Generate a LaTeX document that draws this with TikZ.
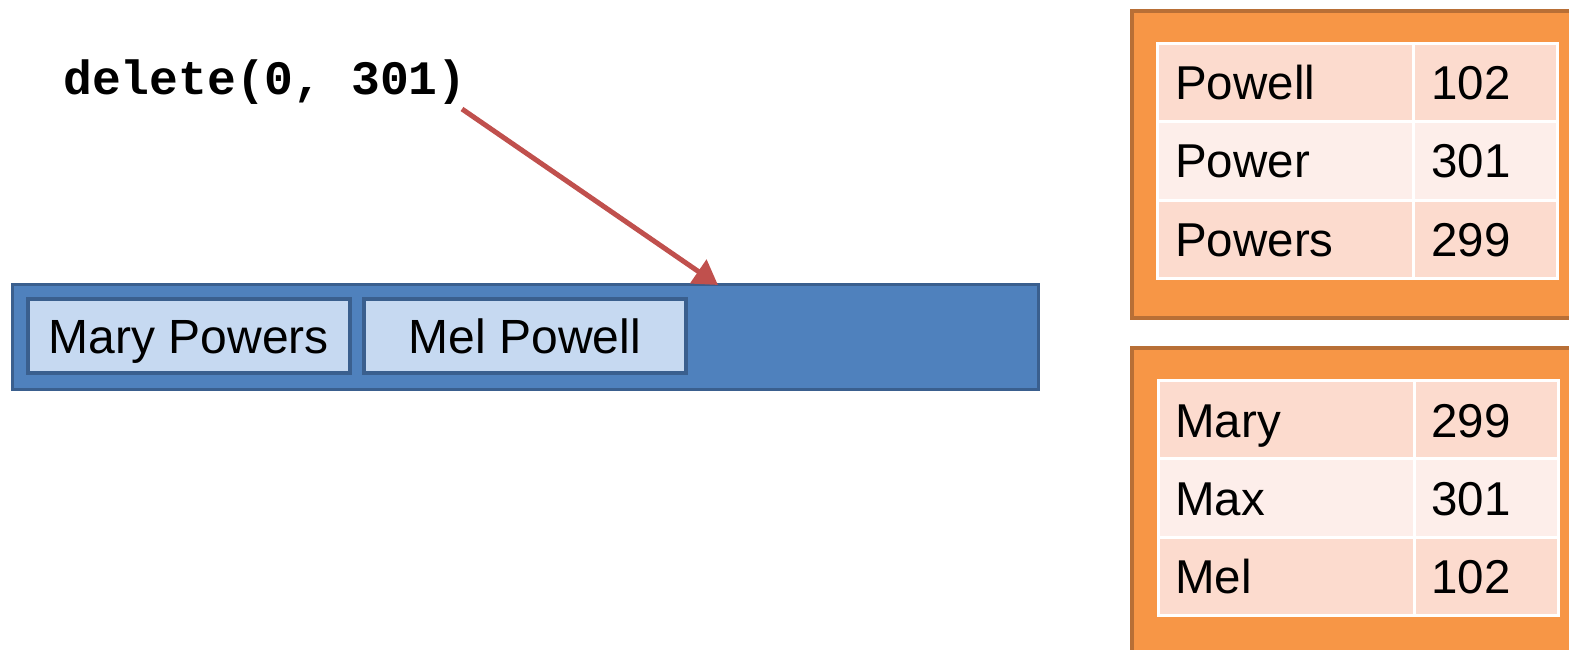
\documentclass[tikz,border=0pt]{standalone}
\usepackage{fontspec}
\setmainfont{Liberation Sans}
\newfontfamily\monob{Liberation Mono}
\usetikzlibrary{arrows.meta}
\definecolor{barfill}{HTML}{4F81BD}
\definecolor{barline}{HTML}{3A5F8E}
\definecolor{cellfill}{HTML}{C6D9F1}
\definecolor{orfill}{HTML}{F79646}
\definecolor{orline}{HTML}{B86F36}
\definecolor{rowdark}{HTML}{FCDBCE}
\definecolor{rowlight}{HTML}{FDEEEA}
\definecolor{arrowred}{HTML}{C0504D}
\tikzset{
  bar/.style={draw=barline, fill=barfill, line width=3pt},
  cell/.style={draw=barline, fill=cellfill, line width=3.5pt, inner sep=0pt,
    text height=40pt, text depth=6pt, font=\fontsize{48}{52}\selectfont},
  orbox/.style={draw=orline, fill=orfill, line width=4pt},
  trow/.style={draw=white, line width=3pt},
  ttext/.style={anchor=base west, inner sep=0pt, font=\fontsize{47.5}{50}\selectfont},
  code/.style={anchor=base west, inner sep=0pt, font=\monob\bfseries\fontsize{48}{50}\selectfont},
  redarrow/.style={draw=arrowred, line width=5pt, -{Triangle[length=24pt,width=28pt]}}
}
\begin{document}
\begin{tikzpicture}[x=1pt,y=-1pt]
\useasboundingbox (0,0) rectangle (1569,650);
\clip (0,0) rectangle (1569,650);

% blue bar
\path[bar] (12,284) rectangle (1038,389);
\node[cell, minimum width=322pt, minimum height=74pt] (mary) at (189,336) {Mary Powers};
\node[cell, minimum width=322pt, minimum height=74pt] (mel) at (525,336) {Mel Powell};

% call text and arrow
\node[code] (call) at (63,95) {delete(0, 301)};
\coordinate (astart) at (462,109);
\coordinate (atip) at (718,285);
\draw[redarrow] (astart) -- (atip);

% orange box 1
\path[orbox] (1132,11) rectangle (1600,318);
\path[trow, fill=rowdark] (1157,44) rectangle (1413,122);
\path[trow, fill=rowdark] (1413,44) rectangle (1557,122);
\path[trow, fill=rowlight] (1157,122) rectangle (1413,200);
\path[trow, fill=rowlight] (1413,122) rectangle (1557,200);
\path[trow, fill=rowdark] (1157,200) rectangle (1413,278);
\path[trow, fill=rowdark] (1413,200) rectangle (1557,278);
\node[ttext] (t1a) at (1175,100) {Powell};
\node[ttext] (t1b) at (1431,100) {102};
\node[ttext] (t2a) at (1175,178) {Power};
\node[ttext] (t2b) at (1431,178) {301};
\node[ttext] (t3a) at (1175,256) {Powers};
\node[ttext] (t3b) at (1431,256) {299};

% orange box 2
\path[orbox] (1132,348) rectangle (1600,700);
\path[trow, fill=rowdark] (1158,380) rectangle (1414,458);
\path[trow, fill=rowdark] (1414,380) rectangle (1558,458);
\path[trow, fill=rowlight] (1158,458) rectangle (1414,537);
\path[trow, fill=rowlight] (1414,458) rectangle (1558,537);
\path[trow, fill=rowdark] (1158,537) rectangle (1414,615);
\path[trow, fill=rowdark] (1414,537) rectangle (1558,615);
\node[ttext] (u1a) at (1175,437) {Mary};
\node[ttext] (u1b) at (1431,437) {299};
\node[ttext] (u2a) at (1175,515) {Max};
\node[ttext] (u2b) at (1431,515) {301};
\node[ttext] (u3a) at (1175,593) {Mel};
\node[ttext] (u3b) at (1431,593) {102};
\end{tikzpicture}
\end{document}
